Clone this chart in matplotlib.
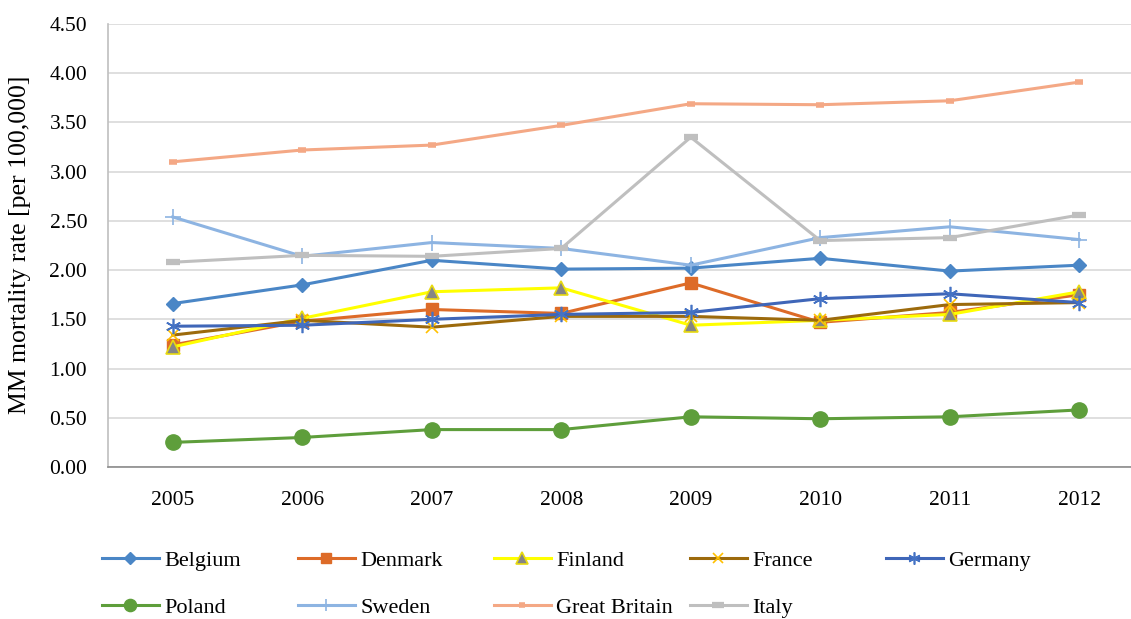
import numpy as np
import matplotlib.pyplot as plt

# Tassi di mortalita MM per 100.000 abitanti, 2005-2012

years = ['2005', '2006', '2007', '2008', '2009', '2010', '2011', '2012']

belgium = [1.66, 1.85, 2.10, 2.01, 2.02, 2.12, 1.99, 2.05]
denmark = [1.24, 1.48, 1.60, 1.56, 1.87, 1.47, 1.57, 1.75]
finland = [1.22, 1.51, 1.78, 1.82, 1.44, 1.49, 1.55, 1.78]
france = [1.34, 1.49, 1.42, 1.53, 1.53, 1.49, 1.65, 1.67]
germany = [1.43, 1.44, 1.50, 1.55, 1.57, 1.71, 1.76, 1.67]
poland = [0.25, 0.30, 0.38, 0.38, 0.51, 0.49, 0.51, 0.58]
sweden = [2.54, 2.14, 2.28, 2.22, 2.05, 2.33, 2.44, 2.31]
great_britain = [3.10, 3.22, 3.27, 3.47, 3.69, 3.68, 3.72, 3.91]
italy = [2.08, 2.15, 2.14, 2.22, 3.35, 2.30, 2.33, 2.56]

y_ticks = [0.0, 0.5, 1.0, 1.5, 2.0, 2.5, 3.0, 3.5, 4.0, 4.5]

plt.rcParams['font.family'] = ['Liberation Serif', 'DejaVu Serif']

fig = plt.figure(figsize=(11.31, 6.19), dpi=100)
ax = fig.add_axes([108/1131, 1 - 467/619, 1036/1131, 443/619])

x = np.arange(len(years))

stili = [
    ('Belgium', belgium, dict(color='#4A86C6', marker='D', markersize=7.5)),
    ('Denmark', denmark, dict(color='#DD6B28', marker='s', markersize=9)),
    ('Finland', finland, dict(color='#FFFF00', marker='^', markersize=10,
                              markerfacecolor='#858585', markeredgecolor='#E8DA10',
                              markeredgewidth=1.2)),
    ('France', france, dict(color='#9C6A0C', marker='x', markersize=9,
                            markeredgecolor='#FFC000', markeredgewidth=1.2)),
    ('Germany', germany, dict(color='#3F66B8', marker=(6, 2, 0), markersize=11,
                              markeredgecolor='#4472C4', markeredgewidth=1.2)),
    ('Poland', poland, dict(color='#5E9E3B', marker='o', markersize=11)),
    ('Sweden', sweden, dict(color='#8DB4E2', marker='+', markersize=11,
                            markeredgewidth=1.2)),
    ('Great Britain', great_britain, dict(color='#F4A885', marker='_', markersize=6,
                                          markeredgewidth=4)),
    ('Italy', italy, dict(color='#BFBFBF', marker='_', markersize=10,
                          markeredgewidth=4.5)),
]

linee = {}
for nome, valori, opz in stili:
    linee[nome], = ax.plot(x, valori, linewidth=2.2, label=nome, **opz)

ax.set_xlim(-0.5, len(years) - 0.5)
ax.set_ylim(0, 4.5)
ax.set_yticks(y_ticks)
ax.set_yticklabels(['%.2f' % v for v in y_ticks], fontsize=15.5)
ax.set_xticks(x)
ax.set_xticklabels(years, fontsize=15.5)
ax.tick_params(axis='y', length=0, pad=15)
ax.tick_params(axis='x', length=0, pad=17)

ax.grid(axis='y', color='#D9D9D9', linewidth=1.2)
ax.set_axisbelow(True)
for lato in ['top', 'right']:
    ax.spines[lato].set_visible(False)
ax.spines['left'].set_color('#BFBFBF')
ax.spines['left'].set_linewidth(1.2)
ax.spines['bottom'].set_color('#8C8C8C')
ax.spines['bottom'].set_linewidth(1.2)

fig.text(20/1131, 1 - 245/619, 'MM mortality rate [per 100,000]', rotation=90,
         ha='center', va='center', fontsize=18.5)

# legenda su due righe, colonne di larghezza fissa
colonne = [['Belgium', 'Poland'], ['Denmark', 'Sweden'], ['Finland', 'Great Britain'],
           ['France', 'Italy'], ['Germany']]
for i, gruppo in enumerate(colonne):
    leg = fig.legend([linee[n] for n in gruppo], gruppo, loc='upper left',
                     bbox_to_anchor=((102 + 196 * i) / 1131, 1 - 550/619),
                     frameon=False, fontsize=16, handlelength=2.55,
                     handletextpad=0.25, labelspacing=1.2, markerscale=0.8,
                     borderaxespad=0, borderpad=0)

fig.savefig('out.png', dpi=100)
